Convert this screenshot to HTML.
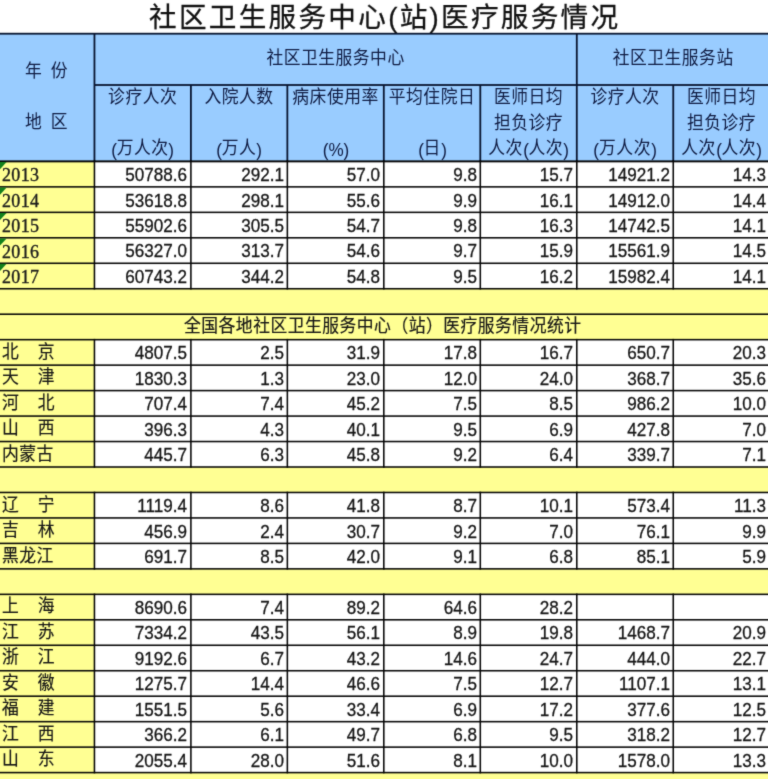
<!DOCTYPE html>
<html lang="zh"><head><meta charset="utf-8"><title>社区卫生服务中心(站)医疗服务情况</title><style>
html,body{margin:0;padding:0;background:#fff}
#page{position:relative;width:768px;height:779px;overflow:hidden;background:#fff;font-family:"Liberation Sans","Noto Sans CJK SC",sans-serif;color:#141414;filter:url(#soft);}
svg.bg{position:absolute;left:0;top:0;display:block}
.ln{position:absolute;white-space:nowrap;overflow:visible}
.ln.c{text-align:center}
.num{text-align:right;font-size:18px;-webkit-text-stroke:0.3px #141414;transform:scale(0.95,1.026);transform-origin:100% 60%}
.yr{font-family:"Liberation Serif",serif;color:#1a1a1a;-webkit-text-stroke:0.35px #1a1a1a;letter-spacing:0.4px;transform:scaleY(1.01);transform-origin:0 60%}
.cj{display:inline-block;position:relative;vertical-align:-0.14em;overflow:visible;line-height:1}
.t{position:absolute;left:0;top:0;color:inherit;white-space:nowrap;line-height:1;font-size:inherit;letter-spacing:0.5px;font-family:"Liberation Sans","Noto Sans CJK SC",sans-serif;transform:scaleY(1.07);transform-origin:0 0}
.t.w{word-spacing:3.2px}
.t.s{color:#151515;-webkit-text-stroke:0.17px #151515}
.t.p{letter-spacing:1.1px}
.title{overflow:hidden}
.title .t{color:#111;-webkit-text-stroke:0.28px #111;transform:none}
.lat{font-size:18px;display:inline-block;transform:scale(0.95,1.026);transform-origin:50% 60%;margin:0 -0.2px}
</style></head><body>
<svg width="0" height="0" style="position:absolute" aria-hidden="true"><defs><filter id="soft" x="0" y="0" width="100%" height="100%" filterUnits="objectBoundingBox" color-interpolation-filters="sRGB"><feConvolveMatrix order="3" kernelMatrix="0.022 0.085 0.022 0.085 0.572 0.085 0.022 0.085 0.022" divisor="1" edgeMode="duplicate" preserveAlpha="true"/></filter></defs></svg>
<div id="page">
<svg class="bg" width="768" height="779" viewBox="0 0 768 779"><rect x="0" y="0" width="768" height="779" fill="#fff"/><rect x="0" y="161.41" width="768" height="617.59" fill="#FFFF93"/><rect x="0" y="33.7" width="768" height="127.71" fill="#99CCFF"/><rect x="94.45" y="161.41" width="673.55" height="127.33" fill="#fff"/><rect x="94.45" y="339.67" width="673.55" height="127.33" fill="#fff"/><rect x="94.45" y="492.47" width="673.55" height="76.40" fill="#fff"/><rect x="94.45" y="594.33" width="673.55" height="178.26" fill="#fff"/><rect x="0" y="32.80" width="768" height="1.8" fill="#08142f"/><rect x="94.45" y="84.10" width="673.55" height="1.8" fill="#08142f"/><rect x="93.55" y="33.70" width="1.8" height="127.71" fill="#08142f"/><rect x="575.90" y="33.70" width="1.8" height="127.71" fill="#08142f"/><rect x="190.00" y="85.00" width="1.8" height="76.41" fill="#08142f"/><rect x="286.45" y="85.00" width="1.8" height="76.41" fill="#08142f"/><rect x="382.90" y="85.00" width="1.8" height="76.41" fill="#08142f"/><rect x="479.40" y="85.00" width="1.8" height="76.41" fill="#08142f"/><rect x="672.35" y="85.00" width="1.8" height="76.41" fill="#08142f"/><rect x="0" y="160.63" width="768" height="1.55" fill="#050505"/><rect x="0" y="160.63" width="768" height="1.55" fill="#050505"/><rect x="0" y="186.10" width="768" height="1.55" fill="#050505"/><rect x="0" y="211.57" width="768" height="1.55" fill="#050505"/><rect x="0" y="237.03" width="768" height="1.55" fill="#050505"/><rect x="0" y="262.50" width="768" height="1.55" fill="#050505"/><rect x="0" y="287.97" width="768" height="1.55" fill="#050505"/><rect x="93.67" y="160.63" width="1.55" height="128.88" fill="#050505"/><rect x="190.12" y="160.63" width="1.55" height="128.88" fill="#050505"/><rect x="286.58" y="160.63" width="1.55" height="128.88" fill="#050505"/><rect x="383.03" y="160.63" width="1.55" height="128.88" fill="#050505"/><rect x="479.53" y="160.63" width="1.55" height="128.88" fill="#050505"/><rect x="576.02" y="160.63" width="1.55" height="128.88" fill="#050505"/><rect x="672.48" y="160.63" width="1.55" height="128.88" fill="#050505"/><rect x="0" y="338.90" width="768" height="1.55" fill="#050505"/><rect x="0" y="364.36" width="768" height="1.55" fill="#050505"/><rect x="0" y="389.83" width="768" height="1.55" fill="#050505"/><rect x="0" y="415.30" width="768" height="1.55" fill="#050505"/><rect x="0" y="440.76" width="768" height="1.55" fill="#050505"/><rect x="0" y="466.23" width="768" height="1.55" fill="#050505"/><rect x="93.67" y="338.90" width="1.55" height="128.88" fill="#050505"/><rect x="190.12" y="338.90" width="1.55" height="128.88" fill="#050505"/><rect x="286.58" y="338.90" width="1.55" height="128.88" fill="#050505"/><rect x="383.03" y="338.90" width="1.55" height="128.88" fill="#050505"/><rect x="479.53" y="338.90" width="1.55" height="128.88" fill="#050505"/><rect x="576.02" y="338.90" width="1.55" height="128.88" fill="#050505"/><rect x="672.48" y="338.90" width="1.55" height="128.88" fill="#050505"/><rect x="0" y="491.69" width="768" height="1.55" fill="#050505"/><rect x="0" y="517.16" width="768" height="1.55" fill="#050505"/><rect x="0" y="542.62" width="768" height="1.55" fill="#050505"/><rect x="0" y="568.09" width="768" height="1.55" fill="#050505"/><rect x="93.67" y="491.69" width="1.55" height="77.95" fill="#050505"/><rect x="190.12" y="491.69" width="1.55" height="77.95" fill="#050505"/><rect x="286.58" y="491.69" width="1.55" height="77.95" fill="#050505"/><rect x="383.03" y="491.69" width="1.55" height="77.95" fill="#050505"/><rect x="479.53" y="491.69" width="1.55" height="77.95" fill="#050505"/><rect x="576.02" y="491.69" width="1.55" height="77.95" fill="#050505"/><rect x="672.48" y="491.69" width="1.55" height="77.95" fill="#050505"/><rect x="0" y="593.56" width="768" height="1.55" fill="#050505"/><rect x="0" y="619.02" width="768" height="1.55" fill="#050505"/><rect x="0" y="644.49" width="768" height="1.55" fill="#050505"/><rect x="0" y="669.96" width="768" height="1.55" fill="#050505"/><rect x="0" y="695.42" width="768" height="1.55" fill="#050505"/><rect x="0" y="720.89" width="768" height="1.55" fill="#050505"/><rect x="0" y="746.35" width="768" height="1.55" fill="#050505"/><rect x="0" y="771.82" width="768" height="1.55" fill="#050505"/><rect x="93.67" y="593.56" width="1.55" height="179.81" fill="#050505"/><rect x="190.12" y="593.56" width="1.55" height="179.81" fill="#050505"/><rect x="286.58" y="593.56" width="1.55" height="179.81" fill="#050505"/><rect x="383.03" y="593.56" width="1.55" height="179.81" fill="#050505"/><rect x="479.53" y="593.56" width="1.55" height="179.81" fill="#050505"/><rect x="576.02" y="593.56" width="1.55" height="179.81" fill="#050505"/><rect x="672.48" y="593.56" width="1.55" height="179.81" fill="#050505"/><rect x="0" y="313.43" width="768" height="1.55" fill="#050505"/><path d="M0 161.99h6.6L0 169.19z" fill="#12801c"/><path d="M0 187.45h6.6L0 194.65z" fill="#12801c"/><path d="M0 212.92h6.6L0 220.12z" fill="#12801c"/><path d="M0 238.38h6.6L0 245.58z" fill="#12801c"/><path d="M0 263.85h6.6L0 271.05z" fill="#12801c"/></svg>
<div class="ln title" style="left:0;top:0;width:768px;height:33px"><span class="t" style="left:149.0px;top:3.5px;font-size:27.6px;letter-spacing:2.3px">社区卫生服务中心(站)医疗服务情况</span></div>
<div class="ln c " style="left:-153.78px;width:400px;top:61.00px;height:24px;line-height:24px;font-size:17.3px;color:#0f1b42;"><span class="cj" style="width:42.50px;height:17.98px;font-size:16.80px"><span class="t w">年 份</span></span></div>
<div class="ln c " style="left:-153.78px;width:400px;top:111.70px;height:24px;line-height:24px;font-size:17.3px;color:#0f1b42;"><span class="cj" style="width:42.50px;height:17.98px;font-size:16.80px"><span class="t w">地 区</span></span></div>
<div class="ln c " style="left:135.62px;width:400px;top:47.30px;height:24px;line-height:24px;font-size:17.3px;color:#0f1b42;"><span class="cj" style="width:138.40px;height:17.98px;font-size:16.80px"><span class="t">社区卫生服务中心</span></span></div>
<div class="ln c " style="left:473.25px;width:400px;top:47.30px;height:24px;line-height:24px;font-size:17.3px;color:#0f1b42;"><span class="cj" style="width:121.10px;height:17.98px;font-size:16.80px"><span class="t">社区卫生服务站</span></span></div>
<div class="ln c " style="left:-57.32px;width:400px;top:86.50px;height:24px;line-height:24px;font-size:18px;color:#0f1b42;"><span class="cj" style="width:69.20px;height:17.98px;font-size:16.80px"><span class="t">诊疗人次</span></span></div>
<div class="ln c " style="left:-57.32px;width:400px;top:137.50px;height:24px;line-height:24px;font-size:18px;color:#0f1b42;"><span class="lat">(</span><span class="cj" style="width:51.90px;height:17.98px;font-size:16.80px"><span class="t">万人次</span></span><span class="lat">)</span></div>
<div class="ln c " style="left:39.12px;width:400px;top:86.50px;height:24px;line-height:24px;font-size:18px;color:#0f1b42;"><span class="cj" style="width:69.20px;height:17.98px;font-size:16.80px"><span class="t">入院人数</span></span></div>
<div class="ln c " style="left:39.12px;width:400px;top:137.50px;height:24px;line-height:24px;font-size:18px;color:#0f1b42;"><span class="lat">(</span><span class="cj" style="width:34.60px;height:17.98px;font-size:16.80px"><span class="t">万人</span></span><span class="lat">)</span></div>
<div class="ln c " style="left:135.58px;width:400px;top:86.50px;height:24px;line-height:24px;font-size:18px;color:#0f1b42;"><span class="cj" style="width:86.50px;height:17.98px;font-size:16.80px"><span class="t">病床使用率</span></span></div>
<div class="ln c " style="left:135.58px;width:400px;top:137.50px;height:24px;line-height:24px;font-size:18px;color:#0f1b42;"><span class="lat">(%)</span></div>
<div class="ln c " style="left:232.05px;width:400px;top:86.50px;height:24px;line-height:24px;font-size:18px;color:#0f1b42;"><span class="cj" style="width:86.50px;height:17.98px;font-size:16.80px"><span class="t">平均住院日</span></span></div>
<div class="ln c " style="left:232.05px;width:400px;top:137.50px;height:24px;line-height:24px;font-size:18px;color:#0f1b42;"><span class="lat">(</span><span class="cj" style="width:17.30px;height:17.98px;font-size:16.80px"><span class="t">日</span></span><span class="lat">)</span></div>
<div class="ln c " style="left:328.55px;width:400px;top:86.50px;height:24px;line-height:24px;font-size:18px;color:#0f1b42;"><span class="cj" style="width:69.20px;height:17.98px;font-size:16.80px"><span class="t">医师日均</span></span></div>
<div class="ln c " style="left:328.55px;width:400px;top:112.20px;height:24px;line-height:24px;font-size:18px;color:#0f1b42;"><span class="cj" style="width:69.20px;height:17.98px;font-size:16.80px"><span class="t">担负诊疗</span></span></div>
<div class="ln c " style="left:328.55px;width:400px;top:137.50px;height:24px;line-height:24px;font-size:18px;color:#0f1b42;"><span class="cj" style="width:34.60px;height:17.98px;font-size:16.80px"><span class="t">人次</span></span><span class="lat">(</span><span class="cj" style="width:34.60px;height:17.98px;font-size:16.80px"><span class="t">人次</span></span><span class="lat">)</span></div>
<div class="ln c " style="left:425.02px;width:400px;top:86.50px;height:24px;line-height:24px;font-size:18px;color:#0f1b42;"><span class="cj" style="width:69.20px;height:17.98px;font-size:16.80px"><span class="t">诊疗人次</span></span></div>
<div class="ln c " style="left:425.02px;width:400px;top:137.50px;height:24px;line-height:24px;font-size:18px;color:#0f1b42;"><span class="lat">(</span><span class="cj" style="width:51.90px;height:17.98px;font-size:16.80px"><span class="t">万人次</span></span><span class="lat">)</span></div>
<div class="ln c " style="left:521.48px;width:400px;top:86.50px;height:24px;line-height:24px;font-size:18px;color:#0f1b42;"><span class="cj" style="width:69.20px;height:17.98px;font-size:16.80px"><span class="t">医师日均</span></span></div>
<div class="ln c " style="left:521.48px;width:400px;top:112.20px;height:24px;line-height:24px;font-size:18px;color:#0f1b42;"><span class="cj" style="width:69.20px;height:17.98px;font-size:16.80px"><span class="t">担负诊疗</span></span></div>
<div class="ln c " style="left:521.48px;width:400px;top:137.50px;height:24px;line-height:24px;font-size:18px;color:#0f1b42;"><span class="cj" style="width:34.60px;height:17.98px;font-size:16.80px"><span class="t">人次</span></span><span class="lat">(</span><span class="cj" style="width:34.60px;height:17.98px;font-size:16.80px"><span class="t">人次</span></span><span class="lat">)</span></div>
<div class="ln yr" style="left:1.9px;top:163.14px;height:24px;line-height:24px;font-size:18px">2013</div>
<div class="ln num" style="left:97.30px;width:90px;top:163.04px;height:24px;line-height:24px">50788.6</div>
<div class="ln num" style="left:193.75px;width:90px;top:163.04px;height:24px;line-height:24px">292.1</div>
<div class="ln num" style="left:290.20px;width:90px;top:163.04px;height:24px;line-height:24px">57.0</div>
<div class="ln num" style="left:386.70px;width:90px;top:163.04px;height:24px;line-height:24px">9.8</div>
<div class="ln num" style="left:483.20px;width:90px;top:163.04px;height:24px;line-height:24px">15.7</div>
<div class="ln num" style="left:579.65px;width:90px;top:163.04px;height:24px;line-height:24px">14921.2</div>
<div class="ln num" style="left:676.10px;width:90px;top:163.04px;height:24px;line-height:24px">14.3</div>
<div class="ln yr" style="left:1.9px;top:188.61px;height:24px;line-height:24px;font-size:18px">2014</div>
<div class="ln num" style="left:97.30px;width:90px;top:188.51px;height:24px;line-height:24px">53618.8</div>
<div class="ln num" style="left:193.75px;width:90px;top:188.51px;height:24px;line-height:24px">298.1</div>
<div class="ln num" style="left:290.20px;width:90px;top:188.51px;height:24px;line-height:24px">55.6</div>
<div class="ln num" style="left:386.70px;width:90px;top:188.51px;height:24px;line-height:24px">9.9</div>
<div class="ln num" style="left:483.20px;width:90px;top:188.51px;height:24px;line-height:24px">16.1</div>
<div class="ln num" style="left:579.65px;width:90px;top:188.51px;height:24px;line-height:24px">14912.0</div>
<div class="ln num" style="left:676.10px;width:90px;top:188.51px;height:24px;line-height:24px">14.4</div>
<div class="ln yr" style="left:1.9px;top:214.07px;height:24px;line-height:24px;font-size:18px">2015</div>
<div class="ln num" style="left:97.30px;width:90px;top:213.97px;height:24px;line-height:24px">55902.6</div>
<div class="ln num" style="left:193.75px;width:90px;top:213.97px;height:24px;line-height:24px">305.5</div>
<div class="ln num" style="left:290.20px;width:90px;top:213.97px;height:24px;line-height:24px">54.7</div>
<div class="ln num" style="left:386.70px;width:90px;top:213.97px;height:24px;line-height:24px">9.8</div>
<div class="ln num" style="left:483.20px;width:90px;top:213.97px;height:24px;line-height:24px">16.3</div>
<div class="ln num" style="left:579.65px;width:90px;top:213.97px;height:24px;line-height:24px">14742.5</div>
<div class="ln num" style="left:676.10px;width:90px;top:213.97px;height:24px;line-height:24px">14.1</div>
<div class="ln yr" style="left:1.9px;top:239.54px;height:24px;line-height:24px;font-size:18px">2016</div>
<div class="ln num" style="left:97.30px;width:90px;top:239.44px;height:24px;line-height:24px">56327.0</div>
<div class="ln num" style="left:193.75px;width:90px;top:239.44px;height:24px;line-height:24px">313.7</div>
<div class="ln num" style="left:290.20px;width:90px;top:239.44px;height:24px;line-height:24px">54.6</div>
<div class="ln num" style="left:386.70px;width:90px;top:239.44px;height:24px;line-height:24px">9.7</div>
<div class="ln num" style="left:483.20px;width:90px;top:239.44px;height:24px;line-height:24px">15.9</div>
<div class="ln num" style="left:579.65px;width:90px;top:239.44px;height:24px;line-height:24px">15561.9</div>
<div class="ln num" style="left:676.10px;width:90px;top:239.44px;height:24px;line-height:24px">14.5</div>
<div class="ln yr" style="left:1.9px;top:265.01px;height:24px;line-height:24px;font-size:18px">2017</div>
<div class="ln num" style="left:97.30px;width:90px;top:264.91px;height:24px;line-height:24px">60743.2</div>
<div class="ln num" style="left:193.75px;width:90px;top:264.91px;height:24px;line-height:24px">344.2</div>
<div class="ln num" style="left:290.20px;width:90px;top:264.91px;height:24px;line-height:24px">54.8</div>
<div class="ln num" style="left:386.70px;width:90px;top:264.91px;height:24px;line-height:24px">9.5</div>
<div class="ln num" style="left:483.20px;width:90px;top:264.91px;height:24px;line-height:24px">16.2</div>
<div class="ln num" style="left:579.65px;width:90px;top:264.91px;height:24px;line-height:24px">15982.4</div>
<div class="ln num" style="left:676.10px;width:90px;top:264.91px;height:24px;line-height:24px">14.1</div>
<div class="ln c " style="left:182.80px;width:400px;top:315.24px;height:24px;line-height:24px;font-size:17.3px;"><span class="cj" style="width:397.60px;height:17.98px;font-size:16.80px"><span class="t s">全国各地社区卫生服务中心（站）医疗服务情况统计</span></span></div>
<div class="ln" style="left:1.9px;top:341.41px;height:24px;line-height:24px;font-size:17.3px"><span class="cj" style="width:52.61px;height:17.98px;font-size:16.80px"><span class="t s p">北　京</span></span></div>
<div class="ln num" style="left:97.30px;width:90px;top:341.31px;height:24px;line-height:24px">4807.5</div>
<div class="ln num" style="left:193.75px;width:90px;top:341.31px;height:24px;line-height:24px">2.5</div>
<div class="ln num" style="left:290.20px;width:90px;top:341.31px;height:24px;line-height:24px">31.9</div>
<div class="ln num" style="left:386.70px;width:90px;top:341.31px;height:24px;line-height:24px">17.8</div>
<div class="ln num" style="left:483.20px;width:90px;top:341.31px;height:24px;line-height:24px">16.7</div>
<div class="ln num" style="left:579.65px;width:90px;top:341.31px;height:24px;line-height:24px">650.7</div>
<div class="ln num" style="left:676.10px;width:90px;top:341.31px;height:24px;line-height:24px">20.3</div>
<div class="ln" style="left:1.9px;top:366.87px;height:24px;line-height:24px;font-size:17.3px"><span class="cj" style="width:52.61px;height:17.98px;font-size:16.80px"><span class="t s p">天　津</span></span></div>
<div class="ln num" style="left:97.30px;width:90px;top:366.77px;height:24px;line-height:24px">1830.3</div>
<div class="ln num" style="left:193.75px;width:90px;top:366.77px;height:24px;line-height:24px">1.3</div>
<div class="ln num" style="left:290.20px;width:90px;top:366.77px;height:24px;line-height:24px">23.0</div>
<div class="ln num" style="left:386.70px;width:90px;top:366.77px;height:24px;line-height:24px">12.0</div>
<div class="ln num" style="left:483.20px;width:90px;top:366.77px;height:24px;line-height:24px">24.0</div>
<div class="ln num" style="left:579.65px;width:90px;top:366.77px;height:24px;line-height:24px">368.7</div>
<div class="ln num" style="left:676.10px;width:90px;top:366.77px;height:24px;line-height:24px">35.6</div>
<div class="ln" style="left:1.9px;top:392.34px;height:24px;line-height:24px;font-size:17.3px"><span class="cj" style="width:52.61px;height:17.98px;font-size:16.80px"><span class="t s p">河　北</span></span></div>
<div class="ln num" style="left:97.30px;width:90px;top:392.24px;height:24px;line-height:24px">707.4</div>
<div class="ln num" style="left:193.75px;width:90px;top:392.24px;height:24px;line-height:24px">7.4</div>
<div class="ln num" style="left:290.20px;width:90px;top:392.24px;height:24px;line-height:24px">45.2</div>
<div class="ln num" style="left:386.70px;width:90px;top:392.24px;height:24px;line-height:24px">7.5</div>
<div class="ln num" style="left:483.20px;width:90px;top:392.24px;height:24px;line-height:24px">8.5</div>
<div class="ln num" style="left:579.65px;width:90px;top:392.24px;height:24px;line-height:24px">986.2</div>
<div class="ln num" style="left:676.10px;width:90px;top:392.24px;height:24px;line-height:24px">10.0</div>
<div class="ln" style="left:1.9px;top:417.80px;height:24px;line-height:24px;font-size:17.3px"><span class="cj" style="width:52.61px;height:17.98px;font-size:16.80px"><span class="t s p">山　西</span></span></div>
<div class="ln num" style="left:97.30px;width:90px;top:417.70px;height:24px;line-height:24px">396.3</div>
<div class="ln num" style="left:193.75px;width:90px;top:417.70px;height:24px;line-height:24px">4.3</div>
<div class="ln num" style="left:290.20px;width:90px;top:417.70px;height:24px;line-height:24px">40.1</div>
<div class="ln num" style="left:386.70px;width:90px;top:417.70px;height:24px;line-height:24px">9.5</div>
<div class="ln num" style="left:483.20px;width:90px;top:417.70px;height:24px;line-height:24px">6.9</div>
<div class="ln num" style="left:579.65px;width:90px;top:417.70px;height:24px;line-height:24px">427.8</div>
<div class="ln num" style="left:676.10px;width:90px;top:417.70px;height:24px;line-height:24px">7.0</div>
<div class="ln" style="left:1.9px;top:443.27px;height:24px;line-height:24px;font-size:17.3px"><span class="cj" style="width:51.40px;height:17.98px;font-size:16.80px"><span class="t s">内蒙古</span></span></div>
<div class="ln num" style="left:97.30px;width:90px;top:443.17px;height:24px;line-height:24px">445.7</div>
<div class="ln num" style="left:193.75px;width:90px;top:443.17px;height:24px;line-height:24px">6.3</div>
<div class="ln num" style="left:290.20px;width:90px;top:443.17px;height:24px;line-height:24px">45.8</div>
<div class="ln num" style="left:386.70px;width:90px;top:443.17px;height:24px;line-height:24px">9.2</div>
<div class="ln num" style="left:483.20px;width:90px;top:443.17px;height:24px;line-height:24px">6.4</div>
<div class="ln num" style="left:579.65px;width:90px;top:443.17px;height:24px;line-height:24px">339.7</div>
<div class="ln num" style="left:676.10px;width:90px;top:443.17px;height:24px;line-height:24px">7.1</div>
<div class="ln" style="left:1.9px;top:494.20px;height:24px;line-height:24px;font-size:17.3px"><span class="cj" style="width:52.61px;height:17.98px;font-size:16.80px"><span class="t s p">辽　宁</span></span></div>
<div class="ln num" style="left:97.30px;width:90px;top:494.10px;height:24px;line-height:24px">1119.4</div>
<div class="ln num" style="left:193.75px;width:90px;top:494.10px;height:24px;line-height:24px">8.6</div>
<div class="ln num" style="left:290.20px;width:90px;top:494.10px;height:24px;line-height:24px">41.8</div>
<div class="ln num" style="left:386.70px;width:90px;top:494.10px;height:24px;line-height:24px">8.7</div>
<div class="ln num" style="left:483.20px;width:90px;top:494.10px;height:24px;line-height:24px">10.1</div>
<div class="ln num" style="left:579.65px;width:90px;top:494.10px;height:24px;line-height:24px">573.4</div>
<div class="ln num" style="left:676.10px;width:90px;top:494.10px;height:24px;line-height:24px">11.3</div>
<div class="ln" style="left:1.9px;top:519.67px;height:24px;line-height:24px;font-size:17.3px"><span class="cj" style="width:52.61px;height:17.98px;font-size:16.80px"><span class="t s p">吉　林</span></span></div>
<div class="ln num" style="left:97.30px;width:90px;top:519.57px;height:24px;line-height:24px">456.9</div>
<div class="ln num" style="left:193.75px;width:90px;top:519.57px;height:24px;line-height:24px">2.4</div>
<div class="ln num" style="left:290.20px;width:90px;top:519.57px;height:24px;line-height:24px">30.7</div>
<div class="ln num" style="left:386.70px;width:90px;top:519.57px;height:24px;line-height:24px">9.2</div>
<div class="ln num" style="left:483.20px;width:90px;top:519.57px;height:24px;line-height:24px">7.0</div>
<div class="ln num" style="left:579.65px;width:90px;top:519.57px;height:24px;line-height:24px">76.1</div>
<div class="ln num" style="left:676.10px;width:90px;top:519.57px;height:24px;line-height:24px">9.9</div>
<div class="ln" style="left:1.9px;top:545.13px;height:24px;line-height:24px;font-size:17.3px"><span class="cj" style="width:51.40px;height:17.98px;font-size:16.80px"><span class="t s">黑龙江</span></span></div>
<div class="ln num" style="left:97.30px;width:90px;top:545.03px;height:24px;line-height:24px">691.7</div>
<div class="ln num" style="left:193.75px;width:90px;top:545.03px;height:24px;line-height:24px">8.5</div>
<div class="ln num" style="left:290.20px;width:90px;top:545.03px;height:24px;line-height:24px">42.0</div>
<div class="ln num" style="left:386.70px;width:90px;top:545.03px;height:24px;line-height:24px">9.1</div>
<div class="ln num" style="left:483.20px;width:90px;top:545.03px;height:24px;line-height:24px">6.8</div>
<div class="ln num" style="left:579.65px;width:90px;top:545.03px;height:24px;line-height:24px">85.1</div>
<div class="ln num" style="left:676.10px;width:90px;top:545.03px;height:24px;line-height:24px">5.9</div>
<div class="ln" style="left:1.9px;top:596.07px;height:24px;line-height:24px;font-size:17.3px"><span class="cj" style="width:52.61px;height:17.98px;font-size:16.80px"><span class="t s p">上　海</span></span></div>
<div class="ln num" style="left:97.30px;width:90px;top:595.97px;height:24px;line-height:24px">8690.6</div>
<div class="ln num" style="left:193.75px;width:90px;top:595.97px;height:24px;line-height:24px">7.4</div>
<div class="ln num" style="left:290.20px;width:90px;top:595.97px;height:24px;line-height:24px">89.2</div>
<div class="ln num" style="left:386.70px;width:90px;top:595.97px;height:24px;line-height:24px">64.6</div>
<div class="ln num" style="left:483.20px;width:90px;top:595.97px;height:24px;line-height:24px">28.2</div>
<div class="ln" style="left:1.9px;top:621.53px;height:24px;line-height:24px;font-size:17.3px"><span class="cj" style="width:52.61px;height:17.98px;font-size:16.80px"><span class="t s p">江　苏</span></span></div>
<div class="ln num" style="left:97.30px;width:90px;top:621.43px;height:24px;line-height:24px">7334.2</div>
<div class="ln num" style="left:193.75px;width:90px;top:621.43px;height:24px;line-height:24px">43.5</div>
<div class="ln num" style="left:290.20px;width:90px;top:621.43px;height:24px;line-height:24px">56.1</div>
<div class="ln num" style="left:386.70px;width:90px;top:621.43px;height:24px;line-height:24px">8.9</div>
<div class="ln num" style="left:483.20px;width:90px;top:621.43px;height:24px;line-height:24px">19.8</div>
<div class="ln num" style="left:579.65px;width:90px;top:621.43px;height:24px;line-height:24px">1468.7</div>
<div class="ln num" style="left:676.10px;width:90px;top:621.43px;height:24px;line-height:24px">20.9</div>
<div class="ln" style="left:1.9px;top:647.00px;height:24px;line-height:24px;font-size:17.3px"><span class="cj" style="width:52.61px;height:17.98px;font-size:16.80px"><span class="t s p">浙　江</span></span></div>
<div class="ln num" style="left:97.30px;width:90px;top:646.90px;height:24px;line-height:24px">9192.6</div>
<div class="ln num" style="left:193.75px;width:90px;top:646.90px;height:24px;line-height:24px">6.7</div>
<div class="ln num" style="left:290.20px;width:90px;top:646.90px;height:24px;line-height:24px">43.2</div>
<div class="ln num" style="left:386.70px;width:90px;top:646.90px;height:24px;line-height:24px">14.6</div>
<div class="ln num" style="left:483.20px;width:90px;top:646.90px;height:24px;line-height:24px">24.7</div>
<div class="ln num" style="left:579.65px;width:90px;top:646.90px;height:24px;line-height:24px">444.0</div>
<div class="ln num" style="left:676.10px;width:90px;top:646.90px;height:24px;line-height:24px">22.7</div>
<div class="ln" style="left:1.9px;top:672.46px;height:24px;line-height:24px;font-size:17.3px"><span class="cj" style="width:52.61px;height:17.98px;font-size:16.80px"><span class="t s p">安　徽</span></span></div>
<div class="ln num" style="left:97.30px;width:90px;top:672.36px;height:24px;line-height:24px">1275.7</div>
<div class="ln num" style="left:193.75px;width:90px;top:672.36px;height:24px;line-height:24px">14.4</div>
<div class="ln num" style="left:290.20px;width:90px;top:672.36px;height:24px;line-height:24px">46.6</div>
<div class="ln num" style="left:386.70px;width:90px;top:672.36px;height:24px;line-height:24px">7.5</div>
<div class="ln num" style="left:483.20px;width:90px;top:672.36px;height:24px;line-height:24px">12.7</div>
<div class="ln num" style="left:579.65px;width:90px;top:672.36px;height:24px;line-height:24px">1107.1</div>
<div class="ln num" style="left:676.10px;width:90px;top:672.36px;height:24px;line-height:24px">13.1</div>
<div class="ln" style="left:1.9px;top:697.93px;height:24px;line-height:24px;font-size:17.3px"><span class="cj" style="width:52.61px;height:17.98px;font-size:16.80px"><span class="t s p">福　建</span></span></div>
<div class="ln num" style="left:97.30px;width:90px;top:697.83px;height:24px;line-height:24px">1551.5</div>
<div class="ln num" style="left:193.75px;width:90px;top:697.83px;height:24px;line-height:24px">5.6</div>
<div class="ln num" style="left:290.20px;width:90px;top:697.83px;height:24px;line-height:24px">33.4</div>
<div class="ln num" style="left:386.70px;width:90px;top:697.83px;height:24px;line-height:24px">6.9</div>
<div class="ln num" style="left:483.20px;width:90px;top:697.83px;height:24px;line-height:24px">17.2</div>
<div class="ln num" style="left:579.65px;width:90px;top:697.83px;height:24px;line-height:24px">377.6</div>
<div class="ln num" style="left:676.10px;width:90px;top:697.83px;height:24px;line-height:24px">12.5</div>
<div class="ln" style="left:1.9px;top:723.39px;height:24px;line-height:24px;font-size:17.3px"><span class="cj" style="width:52.61px;height:17.98px;font-size:16.80px"><span class="t s p">江　西</span></span></div>
<div class="ln num" style="left:97.30px;width:90px;top:723.29px;height:24px;line-height:24px">366.2</div>
<div class="ln num" style="left:193.75px;width:90px;top:723.29px;height:24px;line-height:24px">6.1</div>
<div class="ln num" style="left:290.20px;width:90px;top:723.29px;height:24px;line-height:24px">49.7</div>
<div class="ln num" style="left:386.70px;width:90px;top:723.29px;height:24px;line-height:24px">6.8</div>
<div class="ln num" style="left:483.20px;width:90px;top:723.29px;height:24px;line-height:24px">9.5</div>
<div class="ln num" style="left:579.65px;width:90px;top:723.29px;height:24px;line-height:24px">318.2</div>
<div class="ln num" style="left:676.10px;width:90px;top:723.29px;height:24px;line-height:24px">12.7</div>
<div class="ln" style="left:1.9px;top:748.86px;height:24px;line-height:24px;font-size:17.3px"><span class="cj" style="width:52.61px;height:17.98px;font-size:16.80px"><span class="t s p">山　东</span></span></div>
<div class="ln num" style="left:97.30px;width:90px;top:748.76px;height:24px;line-height:24px">2055.4</div>
<div class="ln num" style="left:193.75px;width:90px;top:748.76px;height:24px;line-height:24px">28.0</div>
<div class="ln num" style="left:290.20px;width:90px;top:748.76px;height:24px;line-height:24px">51.6</div>
<div class="ln num" style="left:386.70px;width:90px;top:748.76px;height:24px;line-height:24px">8.1</div>
<div class="ln num" style="left:483.20px;width:90px;top:748.76px;height:24px;line-height:24px">10.0</div>
<div class="ln num" style="left:579.65px;width:90px;top:748.76px;height:24px;line-height:24px">1578.0</div>
<div class="ln num" style="left:676.10px;width:90px;top:748.76px;height:24px;line-height:24px">13.3</div>
</div>
</body></html>
